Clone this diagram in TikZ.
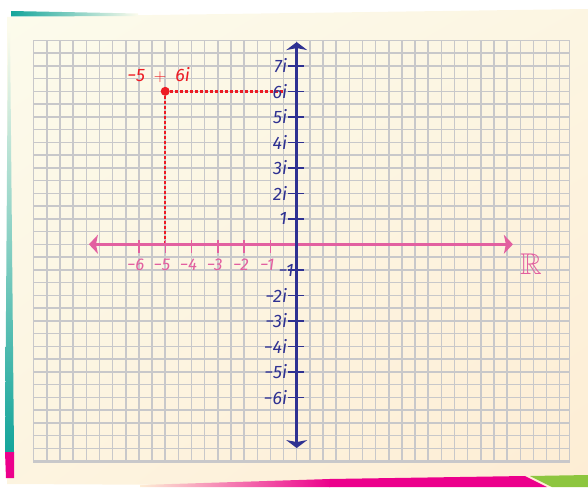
\documentclass[tikz,border=0pt]{standalone}
\usepackage{fontspec}
\usepackage{amssymb}
\setmainfont{Fira Sans}
\usetikzlibrary{arrows.meta, shadings}

\definecolor{axisblue}{RGB}{46,49,146}
\definecolor{axispink}{RGB}{226,96,160}
\definecolor{pointred}{RGB}{237,28,36}
\definecolor{gridgray}{RGB}{200,200,202}
\definecolor{paperlight}{RGB}{252,251,236}
\definecolor{paperdark}{RGB}{253,237,212}
\definecolor{stripteal}{RGB}{20,165,155}
\definecolor{stripmagenta}{RGB}{236,0,140}
\definecolor{stripgreen}{RGB}{141,198,63}

\begin{document}
\begin{tikzpicture}[
        x=1pt, y=-1pt,
        gridline/.style={gridgray, line width=1.5pt},
        realaxis/.style={axispink, line width=2.8pt, {Stealth[length=9pt, width=19pt, inset=2pt]}-{Stealth[length=9pt, width=19pt, inset=2pt]}},
        imagaxis/.style={axisblue, line width=2.8pt, {Stealth[length=8pt, width=21pt, inset=2pt]}-{Stealth[length=8pt, width=21pt, inset=2pt]}},
        realtick/.style={axispink, line width=1.4pt},
        imagtick/.style={axisblue, line width=1.4pt},
        reallbl/.style={axispink, font=\fontsize{17}{19}\selectfont\itshape, inner sep=0pt},
        imaglbl/.style={axisblue, font=\fontsize{18}{20}\selectfont\itshape, inner sep=0pt, anchor=east},
        dotline/.style={pointred, line width=2.4pt, dash pattern=on 2.4pt off 2.6pt}
    ]
    \useasboundingbox (0,0) rectangle (588,487);

    % paper and coloured strips
    \shade[upper left=paperlight, upper right=paperlight!60!paperdark,
           lower left=paperlight!50!paperdark, lower right=paperdark]
        (7,17) -- (588,9) -- (588,487) -- (7,484) -- cycle;
    \shade[left color=stripteal, right color=paperlight]
        (11,11) -- (138,13.5) -- (138,16) -- (11,16.5) -- cycle;
    \shade[top color=paperlight, bottom color=stripteal]
        (8,30) -- (10,30) -- (14,452) -- (5,452) -- cycle;
    \fill[stripmagenta] (5,452) -- (14,452) -- (14,478) -- (6,478) -- cycle;
    \shade[left color=paperdark, right color=stripmagenta]
        (140,485) -- (330,479) -- (330,487) -- (140,487) -- cycle;
    \fill[stripmagenta] (329,479) -- (525,476) -- (547,487) -- (329,487) -- cycle;
    \fill[stripgreen] (530,476) -- (588,475) -- (588,487) -- (552,487) -- cycle;

    \begin{scope}[shift={(296.7pt,-244.3pt)}, x=26.3pt, y=25.5pt]
        % grid
        \draw[gridline, step=0.5] (-10,-8.55) grid (10.37,8);
        \draw[gridline] (-10,-8.55) rectangle (10.37,8);

        % point -5 + 6i and its projections
        \node[circle, fill=pointred, inner sep=0pt, minimum size=9pt] (zpt) at (-5,6) {};
        \coordinate (zre) at (-5,0);
        \coordinate (zim) at (-0.45,6);
        \draw[dotline] (zpt.center) -- (zre);
        \draw[dotline] (zpt.center) -- (zim);
        \node[pointred, font=\fontsize{18}{20}\selectfont\itshape, inner sep=0pt]
            (zlbl) at (-5.25,6.62) {−5\enspace$+$\enspace6i};

        % axes
        \coordinate (reL) at (-7.9,0);
        \coordinate (reR) at (8.22,0);
        \coordinate (imB) at (0,-7.99);
        \coordinate (imT) at (0,7.93);
        \draw[realaxis] (reL) -- (reR);
        \draw[imagaxis] (imB) -- (imT);
        \node[axispink, font=\fontsize{30}{32}\selectfont, inner sep=0pt] (Rlbl) at (8.91,-0.78) {$\mathbb{R}$};

        % real ticks
        \foreach \n in {1,...,6} {
            \draw[realtick] (-\n,0.17) -- (-\n,-0.35);
            \node[reallbl] (re\n) at (-\n-0.12,-0.81) {−\n};
        }

        % imaginary ticks
        \foreach \n in {1,...,7}
            \draw[imagtick] (-0.33,\n) -- (0.27,\n);
        \foreach \n in {1,...,6}
            \draw[imagtick] (-0.33,-\n) -- (0.27,-\n);
        \node[imaglbl] (im1) at (-0.36,1) {1};
        \foreach \n in {2,...,7}
            \node[imaglbl] (im\n) at (-0.36,\n) {\n i};
        \node[imaglbl] (imm1) at (-0.1,-1.04) {−1};
        \foreach \n in {2,...,6}
            \node[imaglbl] (imm\n) at (-0.36,-\n) {−\n i};
    \end{scope}
\end{tikzpicture}
\end{document}
